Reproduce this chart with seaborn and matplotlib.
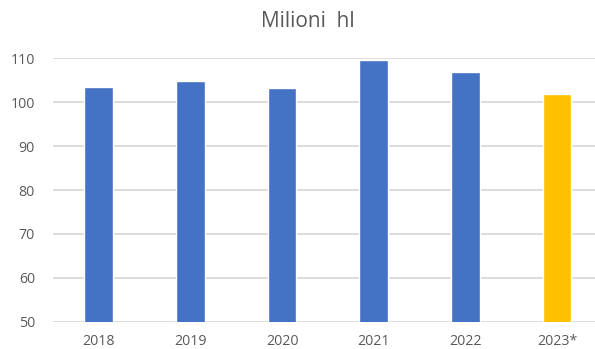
import matplotlib
matplotlib.use("Agg")
import matplotlib.pyplot as plt
import seaborn as sns
import pandas as pd

years = ["2018", "2019", "2020", "2021", "2022", "2023*"]
volumes = [103.4, 104.9, 103.3, 109.5, 106.8, 101.8]
bar_colors = ["#4472C4", "#4472C4", "#4472C4", "#4472C4", "#4472C4", "#FFC000"]
y_ticks = [50, 60, 70, 80, 90, 100, 110]

sns.set_theme(style="white")
plt.rcParams["font.family"] = ["Open Sans", "DejaVu Sans"]

df = pd.DataFrame({"anno": years, "volume": volumes})

fig = plt.figure(figsize=(5.95, 3.49), dpi=100)
ax = fig.add_axes([0.089, 0.078, 0.924, 0.755])

sns.barplot(data=df, x="anno", y="volume", hue="anno",
            palette=dict(zip(years, bar_colors)), legend=False,
            width=0.313, saturation=1, ax=ax, zorder=3)

ax.set_ylim(50, 110)
ax.set_xlim(-0.5, 5.5)
ax.set_yticks(y_ticks)
ax.yaxis.grid(True, color="#D9D9D9", linewidth=1.3, zorder=0)
ax.set_axisbelow(True)
for s in ax.spines.values():
    s.set_visible(False)

ax.set_xlabel("")
ax.set_ylabel("")
ax.tick_params(axis="both", length=0, colors="#595959", labelsize=10.2)
ax.tick_params(axis="y", pad=13)
ax.tick_params(axis="x", pad=9)

fig.text(0.518, 0.937, "Milioni  hl", ha="center", va="center",
         fontsize=15, color="#595959")

fig.savefig("out.png", dpi=100)
